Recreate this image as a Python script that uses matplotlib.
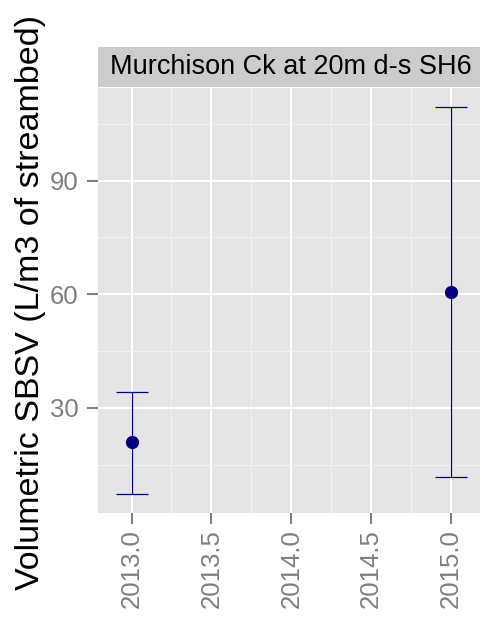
import matplotlib
matplotlib.use("Agg")
import matplotlib.pyplot as plt
from matplotlib.ticker import MultipleLocator

years = [2013.0, 2015.0]
means = [21.0, 60.6]
lower = [7.3, 11.6]
upper = [34.1, 109.4]
xticks = [2013.0, 2013.5, 2014.0, 2014.5, 2015.0]
xticklabels = ["2013.0", "2013.5", "2014.0", "2014.5", "2015.0"]
yticks = [30, 60, 90]
title = "Murchison Ck at 20m d-s SH6"
ylabel = "Volumetric SBSV (L/m3 of streambed)"

plt.rcParams['font.family'] = ['Liberation Sans', 'DejaVu Sans']

fig = plt.figure(figsize=(4.8, 6.26), dpi=100)
ax = fig.add_axes([98/480, 1 - 513/626, (484.5 - 98)/480, (513 - 88)/626])
ax.set_facecolor('#E5E5E5')

ax.set_xlim(2012.79, 2015.21)
ax.set_ylim(2.2, 114.5)

ax.xaxis.set_minor_locator(MultipleLocator(0.25))
ax.yaxis.set_minor_locator(MultipleLocator(15))
ax.set_xticks(xticks)
ax.set_xticklabels(xticklabels, rotation=90)
ax.set_yticks(yticks)

ax.grid(which='major', color='white', linewidth=1.4)
ax.grid(which='minor', color='#F2F2F2', linewidth=0.7)
ax.set_axisbelow(True)
for s in ax.spines.values():
    s.set_visible(False)

ax.tick_params(which='major', length=8, width=1.5, color='#7F7F7F',
               labelcolor='#7F7F7F', labelsize=18.5)
ax.tick_params(axis='x', which='major', pad=3.5)
ax.tick_params(axis='y', which='major', pad=6)
ax.tick_params(which='minor', length=0)

yerr = [[m - l for m, l in zip(means, lower)], [u - m for m, u in zip(means, upper)]]
ax.errorbar(years, means, yerr=yerr, fmt='o', color='#000080', ecolor='#000080',
            elinewidth=0.9, capsize=11.5, capthick=0.9, markersize=8.5, clip_on=False)

fig.text(31/480, 1 - 302/626, ylabel, rotation=90, ha='center', va='center',
         fontsize=24.5, color='black')

# strip
strip = fig.add_axes([98/480, 1 - 87/626, (484.5 - 98)/480, 40/626])
strip.set_facecolor('#CCCCCC')
strip.set_xticks([]); strip.set_yticks([])
for s in strip.spines.values():
    s.set_visible(False)
strip.text(0.5, 0.5, title, ha='center', va='center', fontsize=19.5, color='black',
           transform=strip.transAxes)

fig.savefig('out.png', dpi=100)
